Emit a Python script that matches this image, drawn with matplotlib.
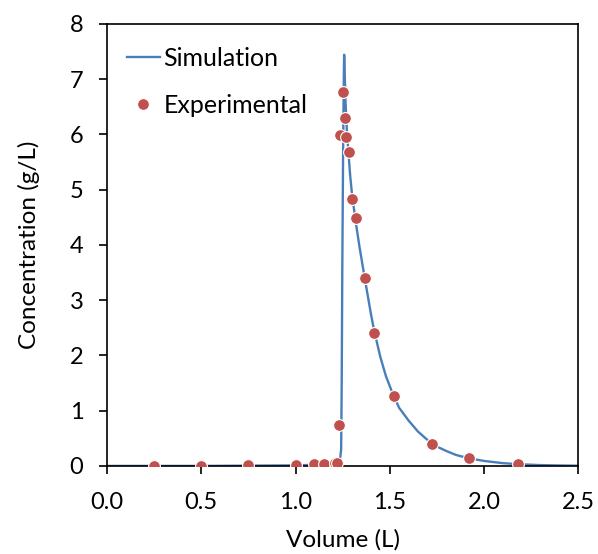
import matplotlib
matplotlib.use("Agg")
import matplotlib.pyplot as plt

plt.rcParams['font.family'] = ['Lato', 'DejaVu Sans']

# simulated breakthrough curve
sim_vol = [0.0, 0.5, 1.0, 1.2, 1.235, 1.242, 1.245, 1.248, 1.252, 1.256, 1.258,
           1.265, 1.272, 1.28, 1.29, 1.30, 1.32, 1.34, 1.367, 1.40, 1.417, 1.45,
           1.48, 1.52, 1.55, 1.60, 1.65, 1.70, 1.725, 1.75, 1.80, 1.85, 1.90,
           1.95, 2.0, 2.1, 2.2, 2.3, 2.4, 2.5]
sim_conc = [0.0, 0.0, 0.01, 0.03, 0.08, 0.3, 1.5, 3.5, 5.5, 7.0, 7.44,
            6.6, 6.1, 5.7, 5.25, 4.9, 4.4, 3.95, 3.4, 2.75, 2.45, 1.97,
            1.62, 1.27, 1.05, 0.82, 0.62, 0.47, 0.40, 0.35, 0.27, 0.2, 0.155,
            0.12, 0.09, 0.05, 0.028, 0.015, 0.008, 0.004]

# experimental points
exp_vol = [0.25, 0.50, 0.75, 1.00, 1.10, 1.15, 1.21, 1.22, 1.23, 1.237, 1.251,
           1.26, 1.268, 1.282, 1.30, 1.32, 1.367, 1.417, 1.52, 1.725, 1.92, 2.18]
exp_conc = [0.0, 0.0, 0.01, 0.02, 0.04, 0.04, 0.05, 0.05, 0.74, 5.99, 6.77,
            6.29, 5.96, 5.68, 4.83, 4.49, 3.40, 2.40, 1.27, 0.39, 0.14, 0.03]

fig = plt.figure(figsize=(5.98, 5.54), dpi=100)
ax = fig.add_axes([0.179, 0.159, 0.788, 0.798])

ax.plot(sim_vol, sim_conc, color='#4A7EBB', lw=1.7, label='Simulation', zorder=2)
ax.plot(exp_vol, exp_conc, 'o', color='#C0504D', markeredgecolor='white',
        markeredgewidth=0.8, markersize=8.5, label='Experimental', zorder=3)

ax.set_xlim(0, 2.5)
ax.set_ylim(0, 8)
ax.set_xticks([0.0, 0.5, 1.0, 1.5, 2.0, 2.5])
ax.set_xticklabels(['0.0', '0.5', '1.0', '1.5', '2.0', '2.5'])
ax.set_yticks(range(0, 9))
ax.tick_params(direction='out', length=6, width=1.2, labelsize=17)
ax.tick_params(axis='x', pad=13)
ax.tick_params(axis='y', pad=11)
for s in ax.spines.values():
    s.set_linewidth(1.2)

ax.set_xlabel('Volume (L)', fontsize=17.5, labelpad=11)
ax.set_ylabel('Concentration (g/L)', fontsize=17.5, labelpad=21)

ax.legend(loc='upper left', bbox_to_anchor=(0.0, 0.993), frameon=False,
          fontsize=18, handlelength=1.3, handletextpad=0.15, labelspacing=0.95,
          borderaxespad=0.4)

fig.savefig('out.png', dpi=100)
